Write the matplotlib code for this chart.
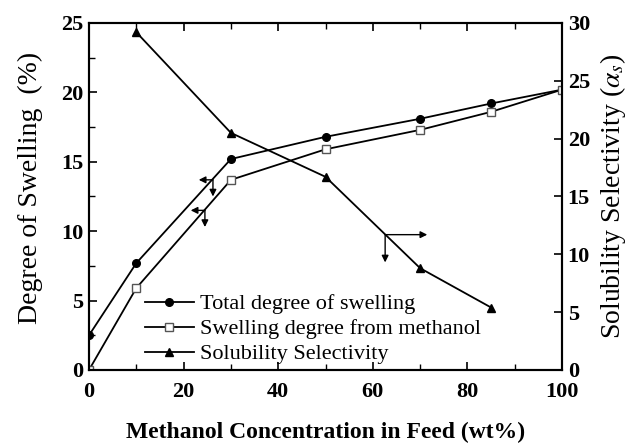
import numpy as np
import matplotlib.pyplot as plt

plt.rcParams['font.family'] = ['Liberation Serif', 'DejaVu Serif']
plt.rcParams['mathtext.fontset'] = 'stix'

# data
conc_total = [0, 10, 30, 50, 70, 85, 100]
total_swelling = [2.5, 7.7, 15.2, 16.8, 18.1, 19.2, 20.2]

conc_meoh = [0, 10, 30, 50, 70, 85, 100]
meoh_swelling = [0.0, 5.9, 13.7, 15.9, 17.3, 18.6, 20.2]

conc_sel = [10, 30, 50, 70, 85]
selectivity = [29.2, 20.5, 16.7, 8.8, 5.4]

fig = plt.figure(figsize=(6.38, 4.44), dpi=100)
ax = fig.add_axes([0.1395, 0.1667, 0.7415, 0.7815])
ax2 = ax.twinx()

lw = 1.3
l1, = ax.plot(conc_total, total_swelling, '-', color='black', lw=lw,
              marker='o', ms=5.5, mfc='black', mec='black')
l2, = ax.plot(conc_meoh, meoh_swelling, '-', color='black', lw=lw,
              marker='s', ms=5.5, mfc='white', mec='#555555', mew=1.0)
l3, = ax2.plot(conc_sel, selectivity, '-', color='black', lw=lw,
               marker='^', ms=6, mfc='black', mec='black')

ax.set_xlim(0, 100)
ax.set_ylim(0, 25)
ax2.set_ylim(0, 30)

ax.set_xticks([0, 20, 40, 60, 80, 100])
ax.set_xticks(np.arange(0, 101, 10), minor=True)
ax.set_yticks([0, 5, 10, 15, 20, 25])
ax.set_yticks(np.arange(0, 25.1, 2.5), minor=True)
ax2.set_yticks([0, 5, 10, 15, 20, 25, 30])

ax.tick_params(axis='x', which='both', direction='in', top=True)
ax.tick_params(axis='x', which='major', length=6, width=1.2, pad=9)
ax.tick_params(axis='x', which='minor', length=4, width=1.0)
ax.tick_params(axis='y', which='major', direction='in', length=6, width=1.2, pad=4)
ax.tick_params(axis='y', which='minor', direction='in', length=4, width=1.0)
ax2.tick_params(axis='y', direction='in', length=6, width=1.2, pad=4)

for a in (ax, ax2):
    for lab in a.get_xticklabels() + a.get_yticklabels():
        lab.set_fontweight('bold')
        lab.set_fontsize(16)
    for s in a.spines.values():
        s.set_linewidth(1.5)

ax.set_xlabel('Methanol Concentration in Feed (wt%)', fontsize=17,
              fontweight='bold', labelpad=14)
ax.set_ylabel('Degree of Swelling  (%)', fontsize=20)
ax.yaxis.set_label_coords(-0.098, 0.525)
ax2.set_ylabel(r'Solubility Selectivity ($\alpha_s$)', fontsize=20, labelpad=6)

# arrows showing which axis each curve belongs to
arr = dict(arrowstyle='-|>', color='black', lw=1.0, mutation_scale=10,
           shrinkA=0, shrinkB=0)
for x0, y0 in [(26.2, 13.7), (24.5, 11.5)]:
    ax.annotate('', xy=(x0 - 3, y0), xytext=(x0, y0), arrowprops=arr)
    ax.annotate('', xy=(x0, y0 - 1.2), xytext=(x0, y0), arrowprops=arr)
ax2.annotate('', xy=(71.5, 11.7), xytext=(62.6, 11.7), arrowprops=arr)
ax2.annotate('', xy=(62.6, 9.3), xytext=(62.6, 11.7), arrowprops=arr)

ax.legend([l1, l2, l3],
          ['Total degree of swelling', 'Swelling degree from methanol',
           'Solubility Selectivity'],
          loc='lower left', bbox_to_anchor=(0.08, -0.035), frameon=False,
          fontsize=16, handlelength=2.2, handletextpad=0.3, labelspacing=0.2,
          borderpad=0.3)

fig.savefig('out.png', dpi=100)
